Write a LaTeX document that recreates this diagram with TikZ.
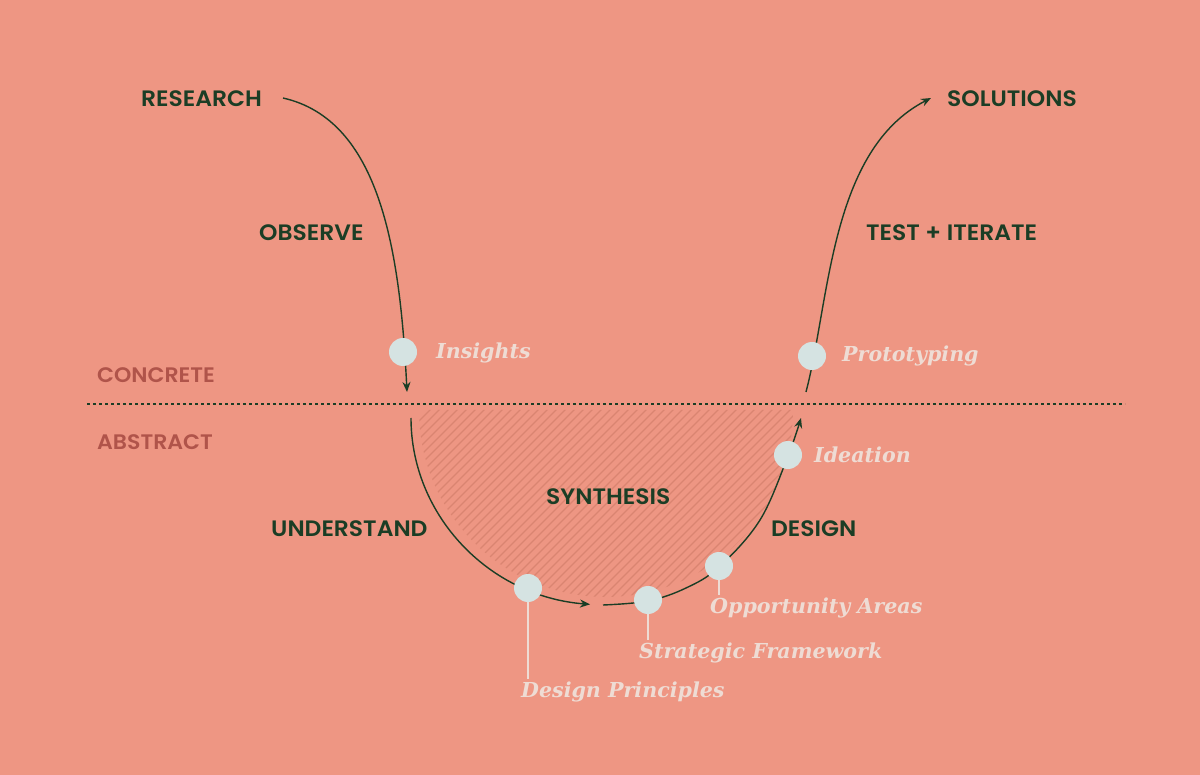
\documentclass[tikz,border=0pt]{standalone}
\usepackage{fontspec}
\usetikzlibrary{arrows.meta}
\newfontfamily\capsf{Poppins}[UprightFont=* SemiBold, FakeStretch=1.05]
\newfontfamily\itsf{DejaVu Serif}
\definecolor{bg}{HTML}{EE9683}
\definecolor{ink}{HTML}{1B3D25}
\definecolor{lvl}{HTML}{B0544A}
\definecolor{dot}{HTML}{D5E3E2}
\definecolor{lab}{HTML}{EEDCD4}
\definecolor{hatch}{HTML}{DA8571}
\tikzset{
  phase/.style={text=ink, font=\capsf\fontsize{22.3}{24}\selectfont, inner sep=0pt},
  level/.style={text=lvl, font=\capsf\fontsize{21}{24}\selectfont, inner sep=0pt, anchor=west},
  stage/.style={circle, fill=dot, minimum size=28pt, inner sep=0pt},
  slabel/.style={text=lab, font=\itsf\bfseries\itshape\fontsize{20.6}{24}\selectfont, inner sep=0pt, anchor=west},
  flow/.style={draw=ink, line width=1.4pt},
  tip/.style={-{Stealth[length=10pt,width=8pt]}},
  leader/.style={draw=lab, line width=1.5pt}
}
\begin{document}
\begin{tikzpicture}[x=1pt,y=-1pt]
\fill[bg] (0,0) rectangle (1200,775);
\useasboundingbox (0,0) rectangle (1200,775);
% hatched synthesis area
\begin{scope}
\clip (419,410) arc[start angle=180, end angle=0, x radius=187, y radius=187] -- cycle;
\foreach \i in {0,...,75}{
  \draw[hatch, line width=1.3pt] (200+9*\i,640) -- ++(260,-260);
}
\end{scope}
% dashed divider
\coordinate (dl) at (87,404);
\coordinate (dr) at (1125,404);
\draw[ink, line width=1.2pt, dash pattern=on 3pt off 3pt] (dl) -- (dr);
% texts
\node[phase, anchor=west] (research) at (141,99) {RESEARCH};
\node[phase, anchor=west] (observe) at (259,233) {OBSERVE};
\node[phase, anchor=west] (solutions) at (947,99) {SOLUTIONS};
\node[phase, anchor=west] (test) at (866,233) {TEST + ITERATE};
\node[phase, anchor=west] (understand) at (271,529) {UNDERSTAND};
\node[phase, anchor=west] (synthesis) at (546,497) {SYNTHESIS};
\node[phase, anchor=west] (design) at (771,529) {DESIGN};
\node[level] (concrete) at (97,375) {CONCRETE};
\node[level] (abstract) at (97,442) {ABSTRACT};
% curve anchors
\coordinate (s1) at (283,98);
\coordinate (e1) at (407,392);
\coordinate (s2) at (411,418);
\coordinate (s4) at (806,392);
\coordinate (e4) at (931,98);
% flow curves
\draw[flow, tip] (s1) .. controls (380,120) and (400,250) .. (e1);
\draw[flow, tip] (s2) arc[start angle=180, end angle=94.7, x radius=195, y radius=187];
\draw[flow, tip] plot[smooth, tension=0.6] coordinates {(603,605) (648,601) (686,588) (719,567) (760,520) (788,456) (801,418)};
\draw[flow, tip] (s4) .. controls (830,300) and (830,150) .. (e4);
% stages
\node[stage] (insights) at (403,352) {};
\node[stage] (proto) at (812,356) {};
\node[stage] (ideation) at (788,455) {};
\node[stage] (opp) at (719,566) {};
\node[stage] (strat) at (648,600) {};
\node[stage] (princ) at (528,588) {};
% leaders
\coordinate (oppend) at (719,595);
\coordinate (stratend) at (648,640);
\coordinate (princend) at (528,679);
\draw[leader] (opp.south) -- (oppend);
\draw[leader] (strat.south) -- (stratend);
\draw[leader] (princ.south) -- (princend);
% stage labels
\node[slabel] (tInsights) at (436,353) {Insights};
\node[slabel] (tProto) at (842,356) {Prototyping};
\node[slabel] (tIdeation) at (814,455) {Ideation};
\node[slabel] (tOpp) at (710,608) {Opportunity Areas};
\node[slabel] (tStrat) at (639,653) {Strategic Framework};
\node[slabel] (tPrinc) at (521,692) {Design Principles};
\end{tikzpicture}
\end{document}
